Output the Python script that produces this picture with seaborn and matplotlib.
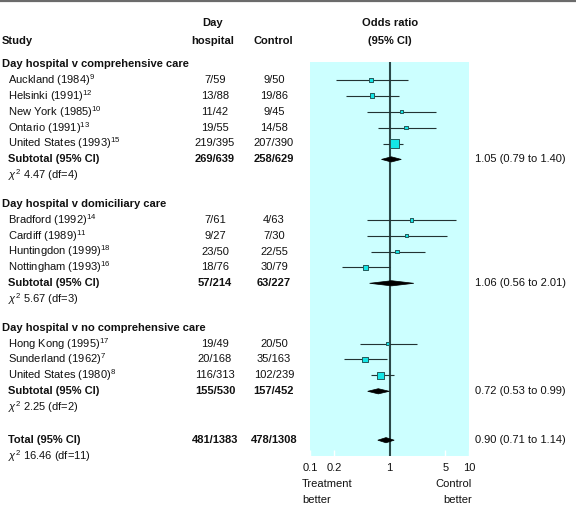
import matplotlib
matplotlib.use("Agg")
import matplotlib.pyplot as plt
from matplotlib.patches import Polygon
from matplotlib.ticker import NullLocator
import pandas as pd
import seaborn as sns

# --- data ---
group_titles = ["Day hospital v comprehensive care",
                "Day hospital v domiciliary care",
                "Day hospital v no comprehensive care"]

study_names = ["Auckland (1984)", "Helsinki (1991)", "New York (1985)", "Ontario (1991)",
               "United States (1993)",
               "Bradford (1992)", "Cardiff (1989)", "Huntingdon (1999)", "Nottingham (1993)",
               "Hong Kong (1995)", "Sunderland (1962)", "United States (1980)"]
study_refs = ["9", "12", "10", "13", "15", "14", "11", "18", "16", "17", "7", "8"]
study_group = [0, 0, 0, 0, 0, 1, 1, 1, 1, 2, 2, 2]
day_hospital = ["7/59", "13/88", "11/42", "19/55", "219/395",
                "7/61", "9/27", "23/50", "18/76",
                "19/49", "20/168", "116/313"]
control = ["9/50", "19/86", "9/45", "14/58", "207/390",
           "4/63", "7/30", "22/55", "30/79",
           "20/50", "35/163", "102/239"]
study_or = [0.59, 0.60, 1.41, 1.61, 1.15, 1.88, 1.61, 1.24, 0.50, 0.94, 0.49, 0.77]
study_lo = [0.21, 0.28, 0.52, 0.72, 0.83, 0.52, 0.52, 0.59, 0.25, 0.42, 0.27, 0.58]
study_hi = [1.72, 1.32, 3.81, 3.81, 1.47, 6.73, 5.24, 2.77, 1.00, 2.20, 0.92, 1.15]
study_weight = [5.7, 7.9, 3.2, 4.3, 27.2, 4.9, 3.2, 3.9, 7.9, 2.6, 11.5, 17.6]

sub_day = ["269/639", "57/214", "155/530"]
sub_ctrl = ["258/629", "63/227", "157/452"]
sub_or = [1.05, 1.06, 0.72]
sub_lo = [0.79, 0.56, 0.53]
sub_hi = [1.40, 2.01, 0.99]
sub_chi = ["4.47 (df=4)", "5.67 (df=3)", "2.25 (df=2)"]

total_day, total_ctrl = "481/1383", "478/1308"
total_or, total_lo, total_hi = 0.90, 0.71, 1.14
total_chi = "16.46 (df=11)"

tick_values = [0.1, 0.2, 1, 5, 10]
tick_labels = ["0.1", "0.2", "1", "5", "10"]

# --- style ---
sns.set_theme(style="white")
plt.rcParams["font.family"] = ["Liberation Sans", "DejaVu Sans"]
plt.rcParams["mathtext.fontset"] = "custom"
plt.rcParams["mathtext.rm"] = "Liberation Sans"
plt.rcParams["mathtext.it"] = "Liberation Sans:italic"
plt.rcParams["mathtext.bf"] = "Liberation Sans:bold"
FS = 8
INK = "#111111"

# --- row layout (pixel rows, top = 0) ---
ROW = 15.9
y = 64.0
header_y, study_y, sub_y, chi_y = [], [], [], []
for g in range(len(group_titles)):
    header_y.append(y)
    y += ROW
    for i, grp in enumerate(study_group):
        if grp == g:
            study_y.append(y)
            y += ROW
    sub_y.append(y)
    y += ROW
    chi_y.append(y)
    y += 28.5 if g < len(group_titles) - 1 else 33
total_y = y
total_chi_y = y + ROW

W, H = 576, 508
fig = plt.figure(figsize=(W / 100, H / 100), dpi=100)

txt = fig.add_axes([0, 0, 1, 1])
txt.set_xlim(0, W)
txt.set_ylim(H, 0)
txt.axis("off")

# top rule
txt.axhline(1, color="#6b6b6b", lw=1.6)

# headers
bold = dict(fontsize=FS, fontweight="bold", color=INK, va="center")
txt.text(2, 41, "Study", ha="left", **bold)
txt.text(213, 23.5, "Day", ha="center", **bold)
txt.text(213, 41, "hospital", ha="center", **bold)
txt.text(273, 41, "Control", ha="center", **bold)
txt.text(390, 23.5, "Odds ratio", ha="center", **bold)
txt.text(390, 41, "(95% CI)", ha="center", **bold)

norm = dict(fontsize=FS, color=INK, va="center")
X_NAME, X_DAY, X_CTRL, X_RES = 7.5, 215, 274, 475

for g, title in enumerate(group_titles):
    txt.text(2, header_y[g], title, ha="left", **bold)
    txt.text(X_NAME, sub_y[g], "Subtotal (95% CI)", ha="left", **bold)
    txt.text(X_DAY, sub_y[g], sub_day[g], ha="center", **bold)
    txt.text(X_CTRL, sub_y[g], sub_ctrl[g], ha="center", **bold)
    txt.text(X_NAME, chi_y[g], r"$\chi^2$ " + sub_chi[g], ha="left", **norm)
    txt.text(X_RES, sub_y[g], f"{sub_or[g]:.2f} ({sub_lo[g]:.2f} to {sub_hi[g]:.2f})",
             ha="left", **norm)

for i, name in enumerate(study_names):
    txt.text(X_NAME, study_y[i], name + "$^{" + study_refs[i] + "}$", ha="left", **norm)
    txt.text(X_DAY, study_y[i], day_hospital[i], ha="center", **norm)
    txt.text(X_CTRL, study_y[i], control[i], ha="center", **norm)

txt.text(X_NAME, total_y, "Total (95% CI)", ha="left", **bold)
txt.text(X_DAY, total_y, total_day, ha="center", **bold)
txt.text(X_CTRL, total_y, total_ctrl, ha="center", **bold)
txt.text(X_NAME, total_chi_y, r"$\chi^2$ " + total_chi, ha="left", **norm)
txt.text(X_RES, total_y, f"{total_or:.2f} ({total_lo:.2f} to {total_hi:.2f})",
         ha="left", **norm)

txt.text(302, 484, "Treatment", ha="left", **norm)
txt.text(302, 500, "better", ha="left", **norm)
txt.text(472, 484, "Control", ha="right", **norm)
txt.text(472, 500, "better", ha="right", **norm)

# --- forest panel ---
ax = fig.add_axes([310 / W, 1 - 456 / H, 159.3 / W, 394 / H])
ax.set_facecolor("#ccffff")

df = pd.DataFrame({"or": study_or, "lo": study_lo, "hi": study_hi,
                   "y": study_y, "weight": study_weight})

ax.axvline(1, color="#2b4848", lw=1.5, zorder=2)
ax.hlines(df["y"], df["lo"], df["hi"], color="#223333", lw=0.8, zorder=3)
smax = (8.7 * 0.72) ** 2
sns.scatterplot(data=df, x="or", y="y", size="weight", sizes=(0, smax),
                size_norm=(0, max(study_weight)), marker="s", color="#14e6e6",
                edgecolor="#245a5a", linewidth=0.7, legend=False, ax=ax, zorder=4)

half = 2.6
for o, lo, hi, yy in zip(sub_or + [total_or], sub_lo + [total_lo],
                         sub_hi + [total_hi], sub_y + [total_y]):
    ax.add_patch(Polygon([(lo, yy), (o, yy - half), (hi, yy), (o, yy + half)],
                         closed=True, facecolor="black", edgecolor="black",
                         lw=0.5, zorder=5))

ax.set_xscale("log")
ax.set_xlim(0.1, 10)
ax.set_ylim(456, 62)
ax.set_xticks(tick_values)
ax.set_xticklabels(tick_labels)
ax.xaxis.set_minor_locator(NullLocator())
ax.set_yticks([])
ax.set_xlabel("")
ax.set_ylabel("")
ax.tick_params(axis="x", direction="in", length=4, width=1, color="white",
               pad=5, labelsize=FS, labelcolor=INK, bottom=True)
for s in ax.spines.values():
    s.set_visible(False)

fig.savefig("out.png", dpi=100)
